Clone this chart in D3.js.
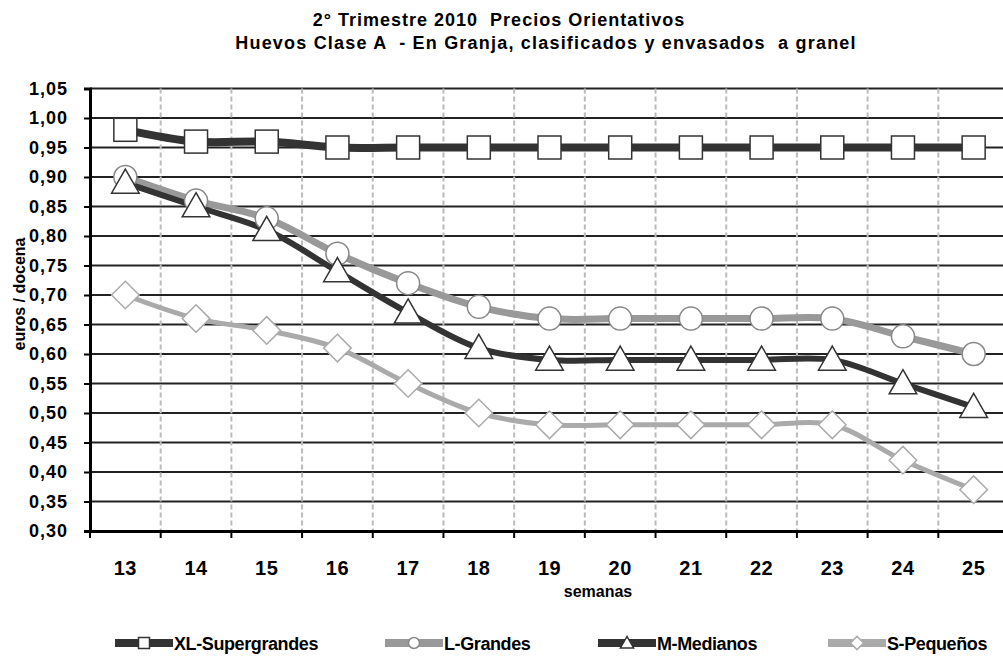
<!DOCTYPE html>
<html><head><meta charset="utf-8">
<script src="https://cdn.jsdelivr.net/npm/d3@7"></script>
<style>body{margin:0;background:#fff}svg{font-family:"Liberation Sans",Arial,sans-serif}</style>
</head><body><svg id="c" width="1003" height="660"></svg>
<script>
const weeks = ["13","14","15","16","17","18","19","20","21","22","23","24","25"];
const xl = [0.98,0.96,0.96,0.95,0.95,0.95,0.95,0.95,0.95,0.95,0.95,0.95,0.95];
const lg = [0.90,0.86,0.83,0.77,0.72,0.68,0.66,0.66,0.66,0.66,0.66,0.63,0.60];
const md = [0.89,0.85,0.81,0.74,0.67,0.61,0.59,0.59,0.59,0.59,0.59,0.55,0.51];
const sm = [0.70,0.66,0.64,0.61,0.55,0.50,0.48,0.48,0.48,0.48,0.48,0.42,0.37];
const yTicks = [0.30,0.35,0.40,0.45,0.50,0.55,0.60,0.65,0.70,0.75,0.80,0.85,0.90,0.95,1.00,1.05];
const seriesNames = ["XL-Supergrandes","L-Grandes","M-Medianos","S-Pequeños"];

const series = [
  {name:seriesNames[0], vals:xl, stroke:"#333", w:8, mark:"square", mstroke:"#333"},
  {name:seriesNames[1], vals:lg, stroke:"#999", w:7, mark:"circle", mstroke:"#888"},
  {name:seriesNames[2], vals:md, stroke:"#333", w:6, mark:"triangle", mstroke:"#333"},
  {name:seriesNames[3], vals:sm, stroke:"#aaa", w:5, mark:"diamond", mstroke:"#aaa"}
];

const svg = d3.select("#c");
const L = 90, R = 1009, T = 88.5, B = 531;
const x = d3.scaleBand().domain(weeks).range([L, R]);
const y = d3.scaleLinear().domain([0.30, 1.05]).range([B, T]);
const fmt = v => d3.format(".2f")(v).replace(".", ",");

// horizontal grid
svg.append("g").selectAll("line").data(yTicks).join("line")
  .attr("x1", L).attr("x2", R).attr("y1", d => y(d)).attr("y2", d => y(d))
  .attr("stroke", "#222").attr("stroke-width", 2);
// vertical dashed grid
const bounds = weeks.slice(1).map(w => x(w));
svg.append("g").selectAll("line").data(bounds).join("line")
  .attr("x1", d => d).attr("x2", d => d).attr("y1", T).attr("y2", B)
  .attr("stroke", "#bbb").attr("stroke-width", 2).attr("stroke-dasharray", "5,3");

// axes
const yAxis = svg.append("g").attr("transform", `translate(${L},0)`)
  .call(d3.axisLeft(y).tickValues(yTicks).tickFormat(fmt).tickSize(6).tickPadding(16));
yAxis.selectAll("text").attr("font-size", 18).attr("letter-spacing", 1);
const xAxis = svg.append("g").attr("transform", `translate(0,${B})`)
  .call(d3.axisBottom(x).tickSize(0).tickPadding(0));
xAxis.selectAll("text").attr("font-size", 20).attr("y", 44).attr("dy", null).attr("letter-spacing", 0.5);
[yAxis, xAxis].forEach(a => {
  a.select(".domain").attr("stroke", "#000").attr("stroke-width", 3);
  a.selectAll("text").attr("font-weight", "bold").attr("fill", "#000");
});
yAxis.selectAll(".tick line").attr("stroke", "#000").attr("stroke-width", 2);
// bottom tick marks at boundaries
svg.append("g").selectAll("line").data([L, ...bounds]).join("line")
  .attr("x1", d => d).attr("x2", d => d).attr("y1", B).attr("y2", B + 7)
  .attr("stroke", "#000").attr("stroke-width", 2);

const cx = (i) => x(weeks[i]) + x.bandwidth() / 2;
const line = d3.line().x((d, i) => cx(i)).y(d => y(d)).curve(d3.curveCatmullRom.alpha(0.5));

function drawMarker(g, type, px, py, s, stroke) {
  let m;
  if (type === "square") m = g.append("rect").attr("x", px - s).attr("y", py - s).attr("width", 2 * s).attr("height", 2 * s);
  else if (type === "circle") m = g.append("circle").attr("cx", px).attr("cy", py).attr("r", s);
  else if (type === "triangle") m = g.append("path").attr("d", `M${px},${py - s * 1.2}L${px + s * 1.2},${py + s * 0.9}L${px - s * 1.2},${py + s * 0.9}Z`);
  else m = g.append("path").attr("d", `M${px},${py - s * 1.2}L${px + s * 1.2},${py}L${px},${py + s * 1.2}L${px - s * 1.2},${py}Z`);
  m.attr("fill", "#fff").attr("stroke", stroke).attr("stroke-width", 1.5);
}

series.forEach(s => {
  svg.append("path").datum(s.vals).attr("d", line).attr("fill", "none")
    .attr("stroke", s.stroke).attr("stroke-width", s.w);
});
series.forEach(s => {
  const g = svg.append("g");
  s.vals.forEach((v, i) => drawMarker(g, s.mark, cx(i), y(v), 11.5, s.mstroke));
});

// titles
svg.append("text").attr("x", 499).attr("y", 26).attr("text-anchor", "middle")
  .attr("font-size", 18).attr("font-weight", "bold").attr("letter-spacing", 1)
  .style("white-space", "pre")
  .text("2° Trimestre 2010  Precios Orientativos");
svg.append("text").attr("x", 546).attr("y", 49).attr("text-anchor", "middle")
  .attr("font-size", 18).attr("font-weight", "bold").attr("letter-spacing", 1.2)
  .style("white-space", "pre")
  .text("Huevos Clase A  - En Granja, clasificados y envasados  a granel");
svg.append("text").attr("x", 598).attr("y", 597).attr("text-anchor", "middle")
  .attr("font-size", 16).attr("font-weight", "bold").text("semanas");
svg.append("text").attr("transform", "translate(25,294) rotate(-90)").attr("text-anchor", "middle")
  .attr("font-size", 16).attr("font-weight", "bold").text("euros / docena");

// legend
const legX = [115, 385, 598, 828];
series.forEach((s, i) => {
  const g = svg.append("g").attr("transform", `translate(${legX[i]},643)`);
  g.append("line").attr("x1", 0).attr("x2", 58).attr("y1", 0).attr("y2", 0)
    .attr("stroke", s.stroke).attr("stroke-width", 8);
  drawMarker(g, s.mark, 29, 0, 5.5, s.mstroke);
  g.append("text").attr("x", 59).attr("y", 7).attr("font-size", 18).attr("font-weight", "bold")
    .attr("letter-spacing", -0.4).text(s.name);
});
</script></body></html>
